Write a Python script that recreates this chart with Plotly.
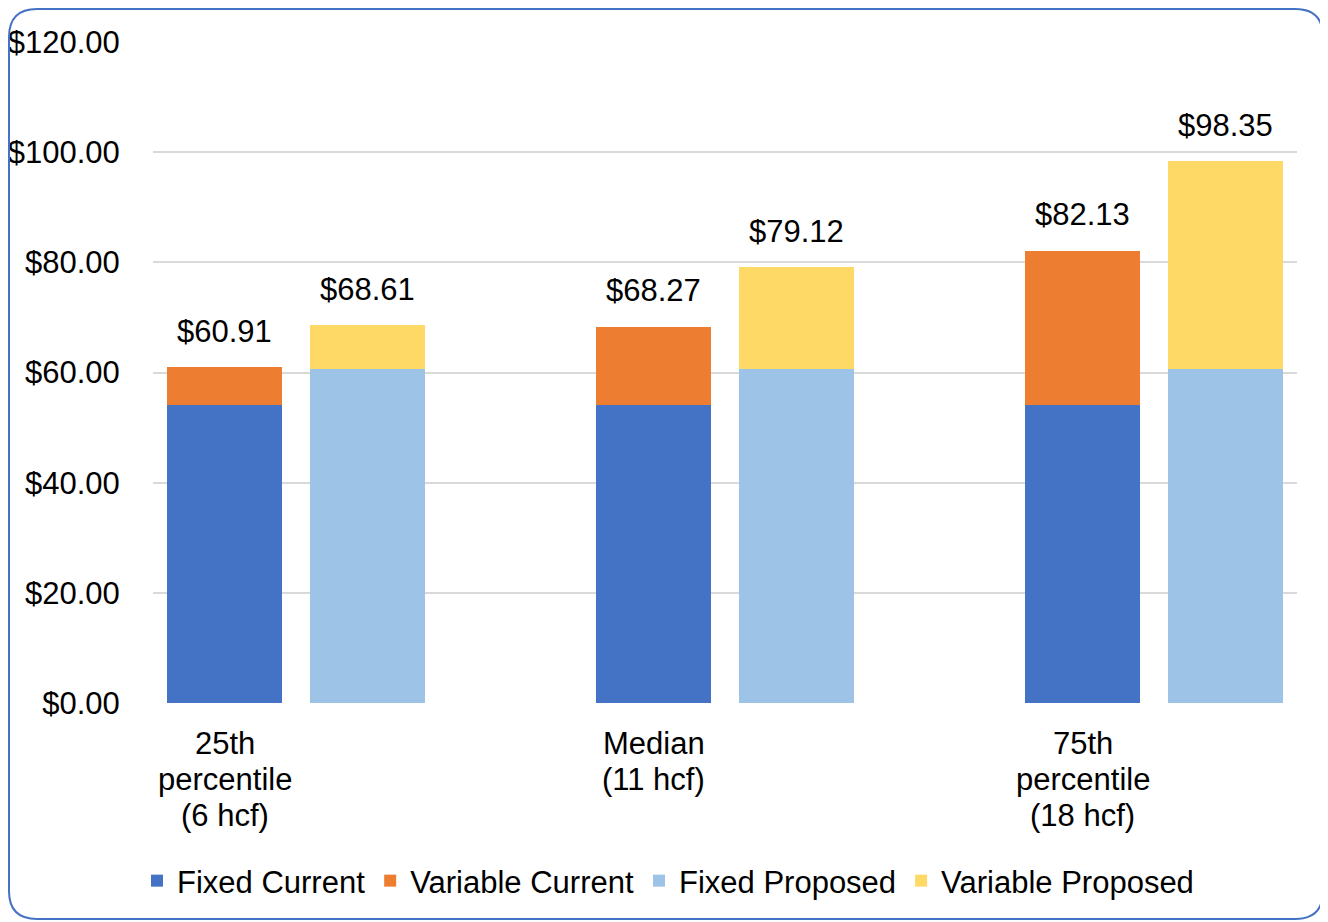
import plotly.graph_objects as go

# ---- data ----
categories = ["25th<br>percentile<br>(6 hcf)", "Median<br>(11 hcf)", "75th<br>percentile<br>(18 hcf)"]
fixed_current = [54.13, 54.13, 54.13]
variable_current = [6.78, 14.14, 28.00]
fixed_proposed = [60.60, 60.60, 60.60]
variable_proposed = [8.01, 18.52, 37.75]
current_totals = [60.91, 68.27, 82.13]
proposed_totals = [68.61, 79.12, 98.35]
y_ticks = [0, 20, 40, 60, 80, 100, 120]
y_tick_labels = ["$0.00", "$20.00", "$40.00", "$60.00", "$80.00", "$100.00", "$120.00"]

# slot positions (two bars per group, one empty slot between groups)
x_current = [0, 3, 6]
x_proposed = [1, 4, 7]
x_category = [0, 3, 6]

FONT = "Liberation Sans, Arial, sans-serif"
FS = 31
W, H = 1328, 922
OFF = 8  # page body margin
ML, MR, MT, MB = 153 - OFF, W - (1297 - OFF), 42 - OFF, H - (703 - OFF)

fig = go.Figure()
fig.add_trace(go.Bar(name="Fixed Current", x=x_current, y=fixed_current,
                     marker=dict(color="#4472C4", line=dict(width=0)), width=0.8))
fig.add_trace(go.Bar(name="Variable Current", x=x_current, y=variable_current,
                     marker=dict(color="#ED7D31", line=dict(width=0)), width=0.8))
fig.add_trace(go.Bar(name="Fixed Proposed", x=x_proposed, y=fixed_proposed,
                     marker=dict(color="#9DC3E6", line=dict(width=0)), width=0.8))
fig.add_trace(go.Bar(name="Variable Proposed", x=x_proposed, y=variable_proposed,
                     marker=dict(color="#FFD966", line=dict(width=0)), width=0.8))

# total labels
for xs, tots in ((x_current, current_totals), (x_proposed, proposed_totals)):
    for xv, t in zip(xs, tots):
        fig.add_annotation(x=xv, y=t, text=f"${t:.2f}", showarrow=False,
                           yshift=36, font=dict(family=FONT, size=FS, color="#000000"))

# paper coordinate helpers (screen pixel -> paper)
pw = W - ML - MR
ph = H - MT - MB
def px(xp):
    return (xp - OFF - ML) / pw
def py(yp):
    return (H - MB - (yp - OFF)) / ph

# category labels (one line each, tighter line spacing like the original)
for xv, cat in zip(x_category, categories):
    for i, line in enumerate(cat.split("<br>")):
        fig.add_annotation(x=xv, xref="x", y=py(743 + 36.5 * i), yref="paper",
                           yanchor="middle", text=line, showarrow=False,
                           font=dict(family=FONT, size=FS, color="#000000"))

# rounded border
L, R, T, B, r = 9, 1323, 9, 919, 28
path = (f"M {px(L+r)},{py(T)} L {px(R-r)},{py(T)} Q {px(R)},{py(T)} {px(R)},{py(T+r)} "
        f"L {px(R)},{py(B-r)} Q {px(R)},{py(B)} {px(R-r)},{py(B)} "
        f"L {px(L+r)},{py(B)} Q {px(L)},{py(B)} {px(L)},{py(B-r)} "
        f"L {px(L)},{py(T+r)} Q {px(L)},{py(T)} {px(L+r)},{py(T)} Z")
fig.add_shape(type="path", path=path, xref="paper", yref="paper",
              line=dict(color="#4472C4", width=2), fillcolor="rgba(0,0,0,0)", layer="above")

fig.update_layout(
    width=W, height=H,
    margin=dict(l=ML, r=MR, t=MT, b=MB, pad=0, autoexpand=False),
    barmode="stack",
    paper_bgcolor="white", plot_bgcolor="white",
    font=dict(family=FONT, size=FS, color="#000000"),
    showlegend=True,
    legend=dict(orientation="h", xref="paper", x=px(668), xanchor="center",
                yref="paper", y=py(881), yanchor="middle",
                font=dict(family=FONT, size=FS), itemclick=False,
                traceorder="normal", bgcolor="rgba(0,0,0,0)"),
    xaxis=dict(range=[-0.5, 7.5], showticklabels=False,
               showgrid=False, zeroline=False, showline=False),
    yaxis=dict(range=[0, 120], tickvals=y_ticks, ticktext=y_tick_labels,
               showgrid=True, gridcolor="#D9D9D9", gridwidth=1.5,
               zeroline=False, showline=False,
               ticks="outside", ticklen=26, tickcolor="rgba(0,0,0,0)",
               tickfont=dict(family=FONT, size=FS)),
)

fig.write_html("out.html")
